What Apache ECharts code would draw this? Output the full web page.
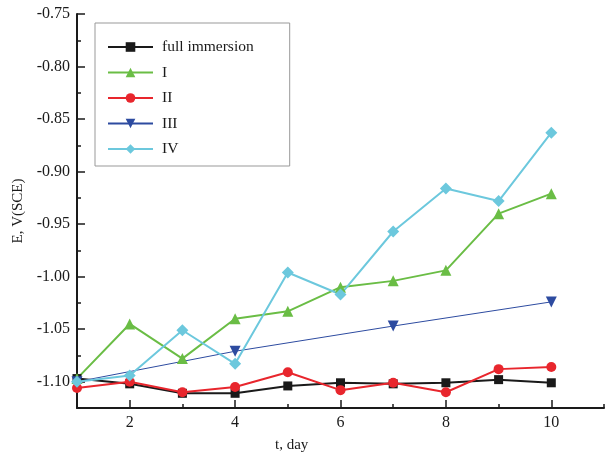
<!DOCTYPE html>
<html>
<head>
<meta charset="utf-8">
<script src="https://cdn.jsdelivr.net/npm/echarts@6/dist/echarts.min.js"></script>
<style>
  html, body { margin: 0; padding: 0; background: #fff; }
  #chart { width: 607px; height: 457px; }
</style>
</head>
<body>
<div id="chart"></div>
<script>
// 电位随时间变化：五种浸泡条件
const days = [1, 2, 3, 4, 5, 6, 7, 8, 9, 10];
const fullImmersion = [-1.097, -1.102, -1.111, -1.111, -1.104, -1.101, -1.102, -1.101, -1.098, -1.101];
const seriesI = [-1.097, -1.045, -1.078, -1.040, -1.033, -1.010, -1.004, -0.994, -0.940, -0.921];
const seriesII = [-1.106, -1.100, -1.110, -1.105, -1.091, -1.108, -1.101, -1.110, -1.088, -1.086];
const daysIII = [1, 4, 7, 10];
const seriesIII = [-1.100, -1.071, -1.047, -1.024];
const seriesIV = [-1.100, -1.094, -1.051, -1.083, -0.996, -1.017, -0.957, -0.916, -0.928, -0.863];

const yMajor = [-1.10, -1.05, -1.00, -0.95, -0.90, -0.85, -0.80, -0.75];
const xMajor = [2, 4, 6, 8, 10];

const FONT = 'Liberation Serif';
const INK = '#1a1a1a';

function pairs(xs, ys) { return xs.map((x, i) => [x, ys[i]]); }

function line(name, xs, ys, color, symbol, size, width) {
  return {
    name, type: 'line', data: pairs(xs, ys),
    symbol, symbolSize: size, color,
    lineStyle: { width: width || 2, color },
    itemStyle: { color },
    xAxisIndex: 0, yAxisIndex: 0,
    animation: false, z: 3,
  };
}

const chart = echarts.init(document.getElementById('chart'), null, { renderer: 'canvas' });

const axisLineStyle = { lineStyle: { color: INK, width: 2 } };

chart.setOption({
  animation: false,
  grid: { left: 77, right: 1, top: 14, bottom: 49, containLabel: false },
  legend: {
    orient: 'vertical', left: 95, top: 23,
    borderColor: '#999', borderWidth: 1,
    padding: [16, 36, 9, 12],
    itemWidth: 45, itemHeight: 12, itemGap: 9.5,
    textStyle: { fontFamily: FONT, fontSize: 15.5, lineHeight: 16, color: INK, padding: [0, 0, 0, 4] },
    data: ['full immersion', 'I', 'II', 'III', 'IV'],
  },
  xAxis: [
    {
      type: 'value', min: 1, max: 11, interval: 1,
      axisLine: axisLineStyle,
      axisTick: { inside: true, length: 4, lineStyle: { color: INK, width: 1.5 } },
      axisLabel: {
        fontFamily: FONT, fontSize: 16, color: INK, margin: 7,
        formatter: (v) => (v % 2 === 0 && v <= 10 ? String(v) : ''),
      },
      splitLine: { show: false },
    },
    {
      type: 'value', min: 1, max: 11, position: 'bottom',
      axisLine: { show: false },
      axisTick: { show: true, inside: true, length: 8, customValues: xMajor, lineStyle: { color: INK, width: 1.5 } },
      axisLabel: { show: false },
      splitLine: { show: false },
    },
  ],
  yAxis: [
    {
      type: 'value', min: -1.125, max: -0.75, interval: 0.025,
      name: 'E, V(SCE)', nameLocation: 'middle', nameGap: 50, nameRotate: 90,
      nameTextStyle: { fontFamily: FONT, fontSize: 15, color: INK },
      axisLine: axisLineStyle,
      axisTick: { inside: true, length: 4, lineStyle: { color: INK, width: 1.5 } },
      axisLabel: {
        fontFamily: FONT, fontSize: 16, color: INK, margin: 7,
        formatter: (v) => {
          const k = Math.round(v * 1000);
          return k % 50 === 0 ? v.toFixed(2) : '';
        },
      },
      splitLine: { show: false },
    },
    {
      type: 'value', min: -1.125, max: -0.75, position: 'left',
      axisLine: { show: false },
      axisTick: { show: true, inside: true, length: 8, customValues: yMajor, lineStyle: { color: INK, width: 1.5 } },
      axisLabel: { show: false },
      splitLine: { show: false },
    },
  ],
  graphic: [{
    type: 'text', left: 275, top: 438,
    style: { text: 't, day', fontFamily: FONT, fontSize: 15, fill: INK },
  }],
  series: [
    line('full immersion', days, fullImmersion, '#1a1a1a', 'rect', 9),
    line('I', days, seriesI, '#6abd45', 'triangle', 11),
    line('II', days, seriesII, '#e8262d', 'circle', 10),
    Object.assign(line('III', daysIII, seriesIII, '#2d4ba0', 'triangle', 11, 1), { symbolRotate: 180 }),
    line('IV', days, seriesIV, '#6cc8dd', 'diamond', 12),
  ],
});
</script>
</body>
</html>
